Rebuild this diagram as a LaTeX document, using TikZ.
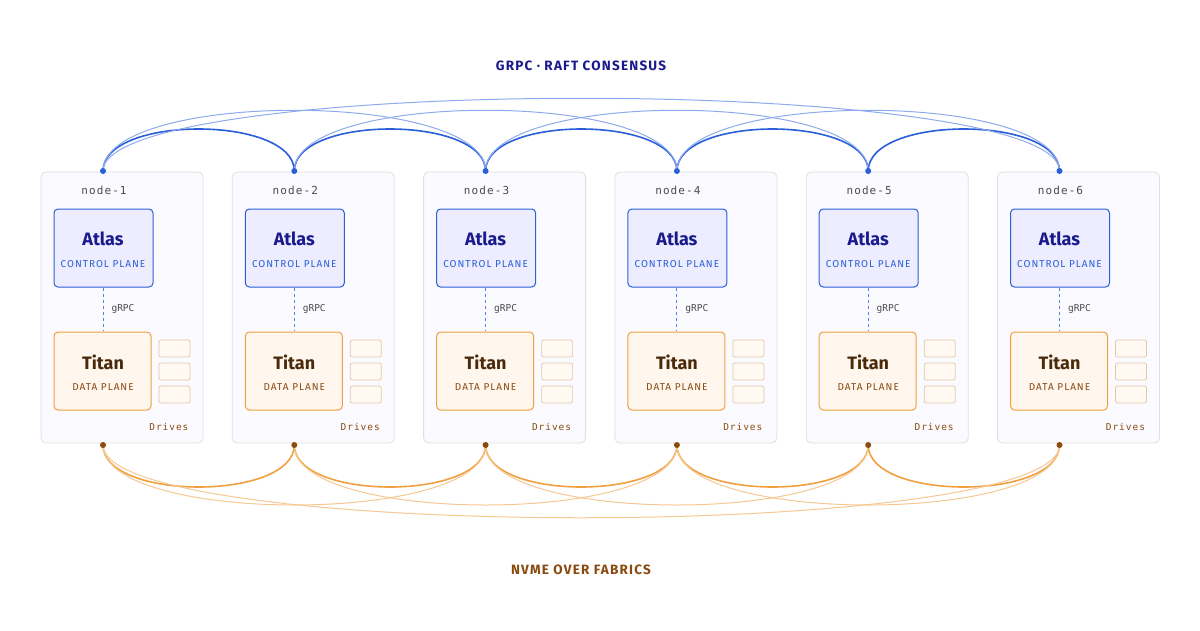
\documentclass[tikz,border=0pt]{standalone}
\usepackage{fontspec}
\setmainfont{Fira Sans}[BoldFont={Fira Sans Bold}]
\setmonofont{DejaVu Sans Mono}
\usetikzlibrary{positioning}
\definecolor{raft}{HTML}{2A5FD8}
\definecolor{raftlight}{HTML}{8EAAEC}
\definecolor{navy}{HTML}{1A1A8C}
\definecolor{fab}{HTML}{F0A040}
\definecolor{fablight}{HTML}{F6C892}
\definecolor{brownish}{HTML}{8A4A10}
\definecolor{titanink}{HTML}{4A2A0A}
\tikzset{
  host/.style={draw=black!12,fill=blue!2,rounded corners=5pt,line width=0.8pt},
  atlas/.style={draw=raft,fill=blue!7,rounded corners=4pt,line width=1pt},
  titan/.style={draw=fab,fill=orange!7,rounded corners=4pt,line width=1pt},
  drive/.style={draw=brown!45,fill=orange!5,rounded corners=2pt,line width=0.7pt},
  hostlabel/.style={font=\ttfamily\fontsize{11}{11}\selectfont\addfontfeature{LetterSpace=10},text=black!70},
  small/.style={font=\fontsize{10}{10}\selectfont\addfontfeature{LetterSpace=10}},
  heading/.style={font=\bfseries\fontsize{13.5}{13.5}\selectfont\addfontfeature{LetterSpace=9}},
}
\begin{document}
\begin{tikzpicture}[x=1pt,y=-1pt]
  \useasboundingbox (0,0) rectangle (1200,630);
  \fill[white] (0,0) rectangle (1200,630);
  \node[heading,text=navy] (title) at (581,66) {GRPC · RAFT CONSENSUS};
  \node[heading,text=brownish] (fabric) at (581,570) {NVME OVER FABRICS};
  % hosts
  \foreach \i in {1,...,6}{
    \pgfmathsetmacro\cx{103+191.3*(\i-1)}
    \draw[host] (\cx-62,172) rectangle (\cx+100,443);
    \node[hostlabel] (lbl\i) at (\cx+1,190) {node-\i};
    \draw[atlas] (\cx-49,209) rectangle (\cx+50,287);
    \node[font=\bfseries\fontsize{18}{18}\selectfont,text=navy] (atlas\i) at (\cx,239) {Atlas};
    \node[small,text=raft] (cp\i) at (\cx,264) {CONTROL PLANE};
    \draw[titan] (\cx-49,332) rectangle (\cx+48,410);
    \node[font=\bfseries\fontsize{18}{18}\selectfont,text=titanink] (titan\i) at (\cx,362) {Titan};
    \node[small,text=brownish] (dp\i) at (\cx,387) {DATA PLANE};
    \foreach \y in {340,363,386}
      \draw[drive] (\cx+56,\y) rectangle (\cx+87,\y+17);
    \node[hostlabel,font=\ttfamily\fontsize{9.5}{9.5}\selectfont\addfontfeature{LetterSpace=10},text=brownish,anchor=east] (drv\i) at (\cx+89,427) {Drives};
    \draw[raft!80,dashed,line width=1pt] (\cx,288) -- (\cx,331);
    \node[font=\ttfamily\fontsize{9.5}{9.5}\selectfont,text=black!70,anchor=west] (grpc\i) at (\cx+5,309) {gRPC};
    \coordinate (top\i) at (\cx,171);
    \coordinate (bot\i) at (\cx,445);
  }
  % raft mesh
  \foreach \i [evaluate=\i as \j using int(\i+1)] in {1,...,5}{
    \draw[raft,line width=1.6pt] (top\i) .. controls +(0,-56) and +(0,-56) .. (top\j);
    \draw[fab,line width=1.6pt] (bot\i) .. controls +(0,56) and +(0,56) .. (bot\j);
  }
  \foreach \i [evaluate=\i as \j using int(\i+2)] in {1,...,4}{
    \draw[raftlight,line width=1pt] (top\i) .. controls +(0,-81) and +(0,-81) .. (top\j);
    \draw[fablight,line width=1pt] (bot\i) .. controls +(0,80) and +(0,80) .. (bot\j);
  }
  \draw[raftlight,line width=1pt] (top1) .. controls +(0,-97) and +(0,-97) .. (top6);
  \draw[fablight,line width=1pt] (bot1) .. controls +(0,97) and +(0,97) .. (bot6);
  \foreach \i in {1,...,6}{
    \fill[raft] (top\i) circle (3pt);
    \fill[brownish] (bot\i) circle (3pt);
  }
\end{tikzpicture}
\end{document}
